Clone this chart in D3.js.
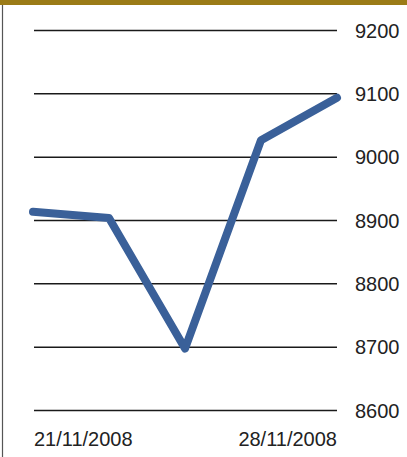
<!DOCTYPE html>
<html>
<head>
<meta charset="utf-8">
<script src="https://cdn.jsdelivr.net/npm/d3@7"></script>
<style>
  body { margin: 0; background: #fff; }
  svg { display: block; }
</style>
</head>
<body>
<svg></svg>
<script>
  // chart data
  const dates = ['21/11/2008', '24/11/2008', '25/11/2008', '26/11/2008', '28/11/2008']
  const closes = [8913, 8903, 8697, 9026, 9093]
  const yTicks = [8600, 8700, 8800, 8900, 9000, 9100, 9200]
  const dateLabels = ['21/11/2008', '28/11/2008']

  let Width = 407
  let Height = 457
  let svg = d3.select('svg').attr('width', Width).attr('height', Height)

  let x = d3.scalePoint().domain(dates).range([33, 337])
  let y = d3.scaleLinear().domain([8600, 9200]).range([410, 30])

  // frame: gold bar on top, thin rule on the left
  svg.append('rect').attr('x', 0).attr('y', 0).attr('width', Width).attr('height', 5).attr('fill', '#9b7b17')
  svg.append('line').attr('x1', 2.5).attr('x2', 2.5).attr('y1', 5).attr('y2', Height)
    .attr('stroke', '#555').attr('stroke-width', 1.2)

  // gridlines + labels
  let yAxis = d3.axisRight(y).tickValues(yTicks).tickSize(337 - 34).tickPadding(18).tickFormat(d3.format('d'))
  let ga = svg.append('g').attr('transform', 'translate(34,0)').call(yAxis)
  ga.select('.domain').remove()
  ga.selectAll('.tick line').attr('stroke', '#1a1a1a').attr('stroke-width', 1.5)
  ga.selectAll('.tick text').attr('fill', '#222').attr('font-family', 'Liberation Sans, Arial, sans-serif')
    .attr('font-size', 20).attr('dy', '0.36em')

  // line
  let line = d3.line().x((d, i) => x(dates[i])).y(d => y(d))
  svg.append('path').datum(closes).attr('d', line).attr('fill', 'none')
    .attr('stroke', '#3a6099').attr('stroke-width', 8)
    .attr('stroke-linecap', 'round').attr('stroke-linejoin', 'round')

  // date labels
  svg.selectAll('.date').data(dateLabels).enter().append('text')
    .attr('class', 'date')
    .attr('x', (d, i) => i === 0 ? 34 : 337)
    .attr('y', 446)
    .attr('text-anchor', (d, i) => i === 0 ? 'start' : 'end')
    .attr('font-family', 'Liberation Sans, Arial, sans-serif')
    .attr('font-size', 20)
    .attr('fill', '#222')
    .text(d => d)
</script>
</body>
</html>
